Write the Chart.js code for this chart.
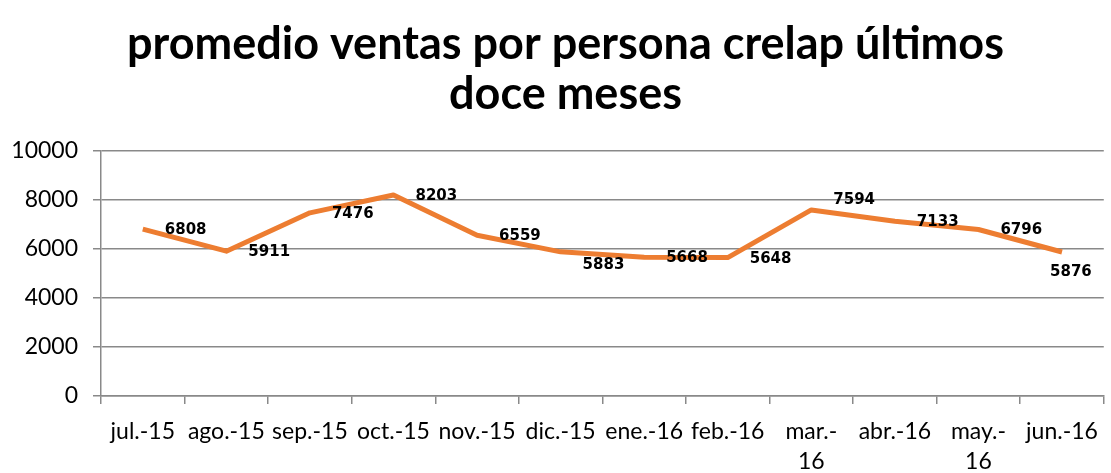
<!DOCTYPE html>
<html>
<head>
<meta charset="utf-8">
<title>promedio ventas por persona</title>
<script src="https://cdn.jsdelivr.net/npm/chart.js@4.4.1/dist/chart.umd.min.js"></script>
<style>
  html, body { margin: 0; padding: 0; background: #fff; }
</style>
</head>
<body>
<canvas id="chart" width="1111" height="473"></canvas>
<script>
// data
const months = ["jul.-15", "ago.-15", "sep.-15", "oct.-15", "nov.-15", "dic.-15",
  "ene.-16", "feb.-16", ["mar.-", "16"], "abr.-16", ["may.-", "16"], "jun.-16"]
const promedio = [6808, 5911, 7476, 8203, 6559, 5883, 5668, 5648, 7594, 7133, 6796, 5876]
const yMin = 0
const yMax = 10000
const yStep = 2000
const titleLines = ["promedio ventas por persona crelap últimos", "doce meses"]

const gridGray = "#898989"
const axisFont = { family: "Lato, 'Open Sans', sans-serif", size: 23 }

// value labels, drawn right of each point (a few are nudged like in the original)
const valueLabels = {
  id: "valueLabels",
  afterLayout(chart, args, opts) {
    // the original title sits a little right of the canvas centre
    if (chart.titleBlock) chart.titleBlock.left += opts.titleShift
  },
  afterDatasetsDraw(chart, args, opts) {
    const ctx = chart.ctx
    const meta = chart.getDatasetMeta(0)
    const values = chart.data.datasets[0].data
    ctx.save()
    ctx.font = "bold 15px 'DejaVu Sans', Verdana, sans-serif"
    ctx.fillStyle = "#000"
    ctx.textAlign = "left"
    ctx.textBaseline = "middle"
    meta.data.forEach((pt, i) => {
      const n = opts.nudge[i] || [0, 0]
      ctx.fillText(String(values[i]), pt.x + 22 + n[0], pt.y + 1 + n[1])
    })
    ctx.restore()
  },
}

new Chart(document.getElementById("chart"), {
  type: "line",
  data: {
    labels: months,
    datasets: [
      {
        data: promedio,
        borderColor: "#ED7D31",
        backgroundColor: "#ED7D31",
        borderWidth: 5,
        borderJoinStyle: "round",
        borderCapStyle: "butt",
        pointRadius: 0,
        tension: 0,
      },
    ],
  },
  options: {
    responsive: false,
    devicePixelRatio: 1,
    animation: false,
    layout: { padding: { top: 0, right: 2, bottom: 0, left: 0 } },
    plugins: {
      legend: { display: false },
      tooltip: { enabled: false },
      title: {
        display: true,
        text: titleLines,
        color: "#000",
        font: { family: "Lato, 'Open Sans', sans-serif", weight: "bold", size: 45, lineHeight: 50 / 45 },
        padding: { top: 19, bottom: 32 },
      },
      valueLabels: {
        titleShift: 22,
        nudge: { 5: [0, 12], 8: [0, -11], 11: [-34, 19] },
      },
    },
    scales: {
      x: {
        offset: true,
        grid: {
          offset: true,
          drawOnChartArea: false,
          drawTicks: true,
          tickLength: 8,
          color: gridGray,
          lineWidth: 1.5,
        },
        border: { display: true, color: gridGray, width: 1.5 },
        ticks: {
          color: "#000",
          font: { ...axisFont, lineHeight: 30 / 23 },
          autoSkip: false,
          maxRotation: 0,
          minRotation: 0,
          padding: 13,
        },
        afterFit: scale => { scale.height = 77 },
      },
      y: {
        min: yMin,
        max: yMax,
        grid: { color: gridGray, lineWidth: 1.5, tickLength: 8 },
        border: { display: true, color: gridGray, width: 1.5 },
        ticks: {
          stepSize: yStep,
          color: "#000",
          font: axisFont,
          padding: 15,
          callback: v => String(v),
        },
        afterFit: scale => { scale.width = 101 },
      },
    },
  },
  plugins: [valueLabels],
})
</script>
</body>
</html>
